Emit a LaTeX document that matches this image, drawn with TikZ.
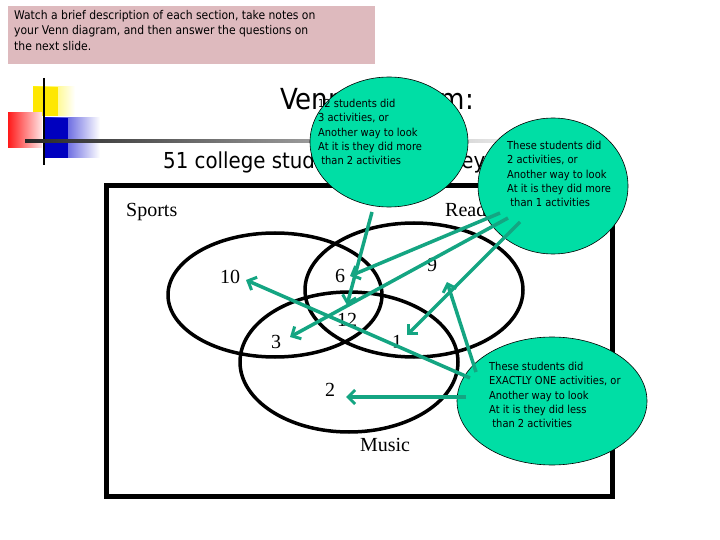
\documentclass[tikz,border=0pt]{standalone}
\usepackage{fontspec}
\setmainfont{Liberation Serif}
\newfontfamily\tah{DejaVu Sans Condensed}
\usetikzlibrary{arrows.meta}
\definecolor{pinkbg}{RGB}{222,186,190}
\definecolor{bub}{RGB}{0,222,165}
\definecolor{arr}{RGB}{20,165,130}
\tikzset{
  bubble/.style={draw=black, line width=0.6pt, fill=bub},
  btext/.style={font=\tah\fontsize{11}{14.3}\selectfont, align=left, anchor=north west, inner sep=0pt},
  num/.style={font=\fontsize{20}{22}\selectfont, inner sep=0pt},
  venn/.style={draw=black, line width=3.5pt},
  ar/.style={draw=arr, line width=3.5pt, -{Straight Barb[length=7pt,width=14pt,line width=3pt]}}
}
\begin{document}
\begin{tikzpicture}[x=1pt,y=-1pt]
\useasboundingbox (0,0) rectangle (720,540);
\fill[white] (0,0) rectangle (720,540);
% header box
\fill[pinkbg] (8,6) rectangle (375,64);
\node[font=\tah\fontsize{12}{15.5}\selectfont, align=left, anchor=north west, inner sep=0pt] (hdr) at (14,10)
 {Watch a brief description of each section, take notes on\\your Venn diagram, and then answer the questions on\\the next slide.};
% logo
\shade[left color=yellow!90!orange, right color=white] (33,87) rectangle (75,116);
\fill[yellow!90!orange] (33,87) rectangle (58,116);
\shade[left color=blue!80!black, right color=white] (43,118) rectangle (100,158);
\fill[blue!75!black] (43,118) rectangle (68,158);
\shade[left color=red!90, right color=red!10] (8,113) rectangle (42,148);
\draw[line width=1.2pt] (44,78) -- (44,165);
\shade[left color=black!85, right color=white] (25,139.5) rectangle (560,142.5);
% titles
\node[font=\tah\fontsize{29}{32}\selectfont, anchor=west, inner sep=0pt] (title) at (280,102) {Venn Diagram:};
\node[font=\tah\fontsize{22}{24}\selectfont, anchor=west, inner sep=0pt] (sub) at (163,162) {51 college students were surveyed};
% frame
\draw[line width=5pt] (106,186) rectangle (612,496);
\node[num, anchor=west] (sports) at (126,212) {Sports};
\node[num, anchor=west] (reading) at (445,212) {Reading};
% ellipses
\draw[venn] (275,295) ellipse [x radius=107, y radius=62];
\draw[venn] (414,290) ellipse [x radius=109, y radius=67];
\draw[venn] (349,362) ellipse [x radius=109, y radius=70];
% numbers
\node[num] (n10) at (230,277) {10};
\node[num] (n6) at (340,276) {6};
\node[num] (n9) at (432,265) {9};
\node[num] (n12) at (347,320) {12};
\node[num] (n3) at (276,342) {3};
\node[num] (n1) at (397,342) {1};
\node[num] (n2) at (330,390) {2};
\node[num] (music) at (385,445) {Music};
% bubbles
\draw[bubble] (389,142) ellipse [x radius=79, y radius=65];
\node[btext] (t1) at (318,99) {12 students did\\3 activities, or\\Another way to look\\At it is they did more\\\ than 2 activities};
\draw[bubble] (553,186) ellipse [x radius=75, y radius=68];
\node[btext] (t2) at (507,141) {These students did\\2 activities, or\\Another way to look\\At it is they did more\\\ than 1 activities};
\draw[bubble] (552,401) ellipse [x radius=95, y radius=64];
\node[btext] (t3) at (489,362) {These students did\\EXACTLY ONE activities, or\\Another way to look\\At it is they did less\\\ than 2 activities};
% arrow anchors
\coordinate (b1) at (372,212);
\coordinate (b2a) at (500,213);
\coordinate (b2b) at (508,218);
\coordinate (b2c) at (520,222);
\coordinate (b3a) at (470,378);
\coordinate (b3b) at (476,372);
\coordinate (b3c) at (466,397);
\coordinate (h12) at (347,305);
\coordinate (h6) at (350,276);
\coordinate (h3) at (290,337);
\coordinate (h1) at (407,335);
\coordinate (h10) at (246,280);
\coordinate (h9) at (447,282);
\coordinate (h2) at (346,397);
\draw[ar] (b1) -- (h12);
\draw[ar] (b2a) -- (h6);
\draw[ar] (b2b) -- (h3);
\draw[ar] (b2c) -- (h1);
\draw[ar] (b3a) -- (h10);
\draw[ar] (b3b) -- (h9);
\draw[ar] (b3c) -- (h2);
\end{tikzpicture}
\end{document}
